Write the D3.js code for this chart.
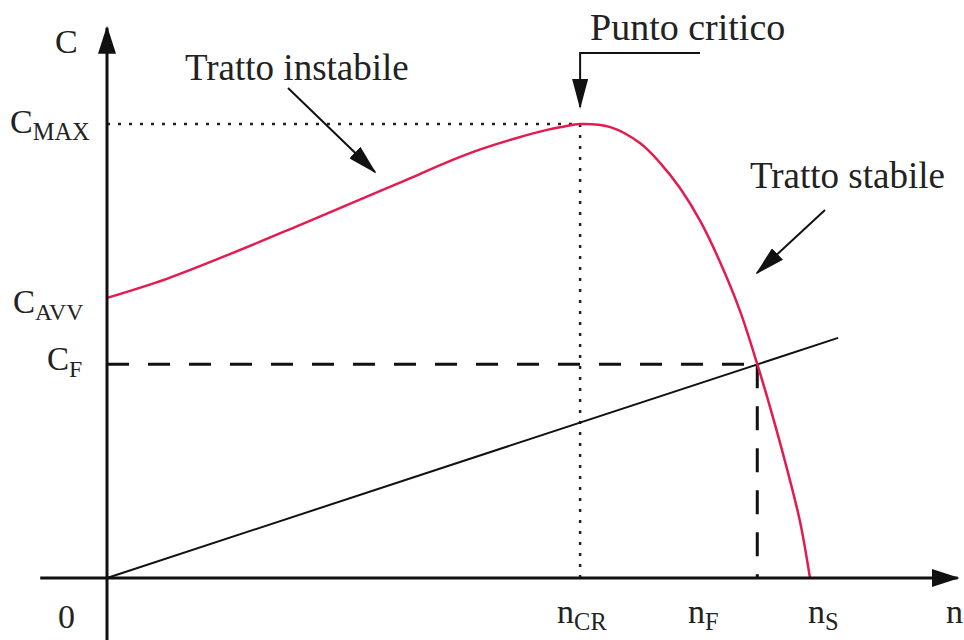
<!DOCTYPE html>
<html>
<head>
<meta charset="utf-8">
<script src="https://cdn.jsdelivr.net/npm/d3@7"></script>
<style>
  body { margin: 0; background: #fff; }
  text { font-family: "Liberation Serif", "Times New Roman", serif; fill: #222; }
</style>
</head>
<body>
<div id="chart"></div>
<script>
// characteristic curve C(n) (n and C in relative units)
var curveN = [0, 0.085, 0.179, 0.275, 0.388, 0.435, 0.484, 0.531, 0.578, 0.626, 0.649, 0.673,
              0.716, 0.758, 0.787, 0.815, 0.844, 0.872, 0.900, 0.925, 0.946, 0.967, 0.986, 1.0];
var curveC = [0.617, 0.659, 0.716, 0.778, 0.852, 0.883, 0.916, 0.944, 0.967, 0.987, 0.994, 1.0,
              0.993, 0.958, 0.914, 0.859, 0.786, 0.696, 0.590, 0.471, 0.361, 0.242, 0.123, 0];

// load line (straight, through the origin)
var loadN = [0, 1.04];
var loadC = [0, 0.529];

// named points
var nCR = 0.673, nF = 0.925, nS = 1.0;
var cMax = 1.0, cAvv = 0.617, cF = 0.471;

var width = 964, height = 640;

var svg = d3.select("#chart")
    .append("svg")
    .attr("width", width)
    .attr("height", height);

var x = d3.scaleLinear().domain([0, 1]).range([107, 810]);
var y = d3.scaleLinear().domain([0, 1]).range([578, 124]);

// arrow heads
var defs = svg.append("defs");
defs.append("marker")
    .attr("id", "axisHead")
    .attr("viewBox", "0 0 28 18")
    .attr("refX", 26).attr("refY", 9)
    .attr("markerWidth", 28).attr("markerHeight", 18)
    .attr("markerUnits", "userSpaceOnUse")
    .attr("orient", "auto")
    .append("path").attr("d", "M0,0 L28,9 L0,18 Z").attr("fill", "#111");
defs.append("marker")
    .attr("id", "noteHead")
    .attr("viewBox", "0 0 30 16")
    .attr("refX", 28).attr("refY", 8)
    .attr("markerWidth", 30).attr("markerHeight", 16)
    .attr("markerUnits", "userSpaceOnUse")
    .attr("orient", "auto")
    .append("path").attr("d", "M0,0 L30,8 L0,16 Z").attr("fill", "#111");

// guide lines
svg.append("line")
    .attr("x1", x(0)).attr("y1", y(cMax))
    .attr("x2", x(nCR)).attr("y2", y(cMax))
    .attr("stroke", "#222").attr("stroke-width", 2.5)
    .attr("stroke-dasharray", "3,8");
svg.append("line")
    .attr("x1", x(nCR)).attr("y1", y(cMax))
    .attr("x2", x(nCR)).attr("y2", y(0))
    .attr("stroke", "#222").attr("stroke-width", 2.5)
    .attr("stroke-dasharray", "3,8");
svg.append("line")
    .attr("x1", x(0)).attr("y1", y(cF))
    .attr("x2", x(nF)).attr("y2", y(cF))
    .attr("stroke", "#111").attr("stroke-width", 3)
    .attr("stroke-dasharray", "22,19");
svg.append("line")
    .attr("x1", x(nF)).attr("y1", y(cF))
    .attr("x2", x(nF)).attr("y2", y(0))
    .attr("stroke", "#111").attr("stroke-width", 3)
    .attr("stroke-dasharray", "24,18");

// load line
svg.append("path")
    .datum(d3.zip(loadN, loadC))
    .attr("d", d3.line().x(function (d) { return x(d[0]); }).y(function (d) { return y(d[1]); }))
    .attr("fill", "none")
    .attr("stroke", "#111")
    .attr("stroke-width", 2);

// curve
svg.append("path")
    .datum(d3.zip(curveN, curveC))
    .attr("d", d3.line()
        .x(function (d) { return x(d[0]); })
        .y(function (d) { return y(d[1]); })
        .curve(d3.curveCatmullRom.alpha(0.5)))
    .attr("fill", "none")
    .attr("stroke", "#e31b4f")
    .attr("stroke-width", 2.5);

// axes
svg.append("line")
    .attr("x1", x(-0.095)).attr("y1", y(0))
    .attr("x2", x(1.21)).attr("y2", y(0))
    .attr("stroke", "#111").attr("stroke-width", 3)
    .attr("marker-end", "url(#axisHead)");
svg.append("line")
    .attr("x1", x(0)).attr("y1", height)
    .attr("x2", x(0)).attr("y2", y(1.212))
    .attr("stroke", "#111").attr("stroke-width", 3)
    .attr("marker-end", "url(#axisHead)");

// labels with subscripts
function label(px, py, main, sub, size) {
    var t = svg.append("text")
        .attr("x", px).attr("y", py)
        .attr("font-size", size);
    t.append("tspan").text(main);
    if (sub) {
        t.append("tspan").attr("font-size", size * 0.72).attr("dy", 7).text(sub);
    }
}

label(55, 53, "C", null, 34);
label(10, 133, "C", "MAX", 34);
label(13, 313, "C", "AVV", 33);
label(47, 370, "C", "F", 33);
label(58, 628, "0", null, 34);
label(x(nCR) - 23, 623, "n", "CR", 34);
label(688, 623, "n", "F", 34);
label(x(nS) - 2, 623, "n", "S", 34);
label(946, 623, "n", null, 34);

// annotations
svg.append("text").attr("x", 185).attr("y", 80).attr("font-size", 37).text("Tratto instabile");
svg.append("text").attr("x", 590).attr("y", 40).attr("font-size", 38).text("Punto critico");
svg.append("text").attr("x", 750).attr("y", 188).attr("font-size", 37).text("Tratto stabile");

svg.append("line")
    .attr("x1", 288).attr("y1", 88).attr("x2", 375).attr("y2", 172)
    .attr("stroke", "#111").attr("stroke-width", 2)
    .attr("marker-end", "url(#noteHead)");
svg.append("line")
    .attr("x1", 825).attr("y1", 210).attr("x2", 757).attr("y2", 273)
    .attr("stroke", "#111").attr("stroke-width", 2)
    .attr("marker-end", "url(#noteHead)");
svg.append("path")
    .attr("d", "M700,53 L" + x(nCR) + ",53 L" + x(nCR) + ",107")
    .attr("fill", "none")
    .attr("stroke", "#111").attr("stroke-width", 2)
    .attr("marker-end", "url(#noteHead)");
</script>
</body>
</html>
